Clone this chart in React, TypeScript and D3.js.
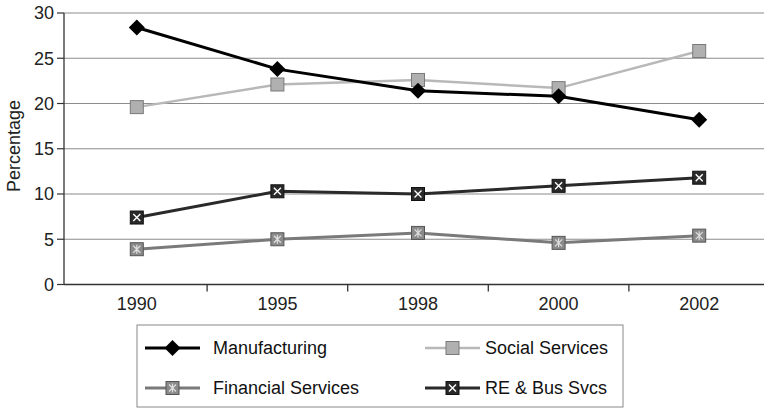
import React from "react";
import * as d3 from "d3";

const years = ["1990", "1995", "1998", "2000", "2002"];
const manufacturing = [28.4, 23.8, 21.4, 20.8, 18.2];
const socialServices = [19.6, 22.1, 22.6, 21.7, 25.8];
const financialServices = [3.9, 5.0, 5.7, 4.6, 5.4];
const reBusSvcs = [7.4, 10.3, 10.0, 10.9, 11.8];
const yTicks = [0, 5, 10, 15, 20, 25, 30];

type Series = { name: string; values: number[]; stroke: string; width: number; marker: string; fill: string; mstroke: string };

const series: Series[] = [
  { name: "Social Services", values: socialServices, stroke: "#b8b8b8", width: 2.5, marker: "square", fill: "#b0b0b0", mstroke: "#7a7a7a" },
  { name: "Financial Services", values: financialServices, stroke: "#7a7a7a", width: 3, marker: "asterisk", fill: "#8a8a8a", mstroke: "#555" },
  { name: "RE & Bus Svcs", values: reBusSvcs, stroke: "#2a2a2a", width: 3, marker: "xsquare", fill: "#2a2a2a", mstroke: "#111" },
  { name: "Manufacturing", values: manufacturing, stroke: "#000", width: 3, marker: "diamond", fill: "#000", mstroke: "#000" },
];

function Marker({ s, x, y }: { s: Series; x: number; y: number }) {
  const h = 6.5;
  if (s.marker === "diamond") {
    return <path d={`M${x},${y - 8}L${x + 8},${y}L${x},${y + 8}L${x - 8},${y}Z`} fill={s.fill} />;
  }
  const rect = <rect x={x - h} y={y - h} width={2 * h} height={2 * h} fill={s.fill} stroke={s.mstroke} strokeWidth={1} />;
  if (s.marker === "square") return rect;
  const k = 3.5;
  if (s.marker === "xsquare") {
    return (
      <g>
        {rect}
        <path d={`M${x - k},${y - k}L${x + k},${y + k}M${x + k},${y - k}L${x - k},${y + k}`} stroke="#fff" strokeWidth={1.4} />
      </g>
    );
  }
  return (
    <g>
      {rect}
      <path d={`M${x - k},${y - k}L${x + k},${y + k}M${x + k},${y - k}L${x - k},${y + k}M${x},${y - 4.5}L${x},${y + 4.5}`} stroke="#e0e0e0" strokeWidth={1.2} />
    </g>
  );
}

export default function App() {
  const W = 764, H = 410;
  const left = 64, top = 13, bottom = 284.5;
  const x = d3.scaleBand<string>().domain(years).range([66.5, 769.5]);
  const y = d3.scaleLinear().domain([0, 30]).range([bottom, top]);
  const line = d3.line<number>().x((_, i) => (x(years[i]) as number) + x.bandwidth() / 2).y((v) => y(v));
  const font = "'Liberation Sans', Arial, sans-serif";
  const legendOrder = [
    [series[3], series[0]],
    [series[1], series[2]],
  ];
  return (
    <svg width={W} height={H} style={{ position: "absolute", left: 0, top: 0, background: "#fff" }} fontFamily={font}>
      {yTicks.map((t) => (
        <g key={t}>
          {t > 0 && <line x1={left} x2={W} y1={y(t)} y2={y(t)} stroke="#8c8c8c" strokeWidth={1.2} />}
          <line x1={57} x2={left} y1={y(t)} y2={y(t)} stroke="#333" strokeWidth={1.2} />
          <text x={54} y={y(t)} dy="0.36em" textAnchor="end" fontSize={18} fill="#222">{t}</text>
        </g>
      ))}
      <line x1={left} x2={left} y1={top} y2={bottom} stroke="#333" strokeWidth={1.3} />
      <line x1={left} x2={W} y1={bottom} y2={bottom} stroke="#333" strokeWidth={1.3} />
      {years.map((yr, i) => (
        <g key={yr}>
          {i > 0 && <line x1={x(yr) as number} x2={x(yr) as number} y1={bottom} y2={bottom + 7} stroke="#333" strokeWidth={1.3} />}
          <text x={(x(yr) as number) + x.bandwidth() / 2} y={309.5} textAnchor="middle" fontSize={18} fill="#222">{yr}</text>
        </g>
      ))}
      <text transform={`translate(20,146) rotate(-90)`} textAnchor="middle" fontSize={18} fill="#222">Percentage</text>
      {series.map((s) => (
        <g key={s.name}>
          <path d={line(s.values) as string} fill="none" stroke={s.stroke} strokeWidth={s.width} />
          {s.values.map((v, i) => (
            <Marker key={i} s={s} x={(x(years[i]) as number) + x.bandwidth() / 2} y={y(v)} />
          ))}
        </g>
      ))}
      <rect x={137} y={325} width={486} height={82} fill="#fff" stroke="#888" strokeWidth={1} />
      {legendOrder.map((row, r) =>
        row.map((s, c) => {
          const lx = c === 0 ? 145 : 425;
          const ly = r === 0 ? 348 : 388;
          const ty = r === 0 ? 354 : 393.5;
          return (
            <g key={s.name}>
              <line x1={lx} x2={lx + 55} y1={ly} y2={ly} stroke={s.stroke} strokeWidth={s.width} />
              <Marker s={s} x={lx + 27.5} y={ly} />
              <text x={c === 0 ? 213 : 485} y={ty} fontSize={18} fill="#111">{s.name}</text>
            </g>
          );
        })
      )}
    </svg>
  );
}
